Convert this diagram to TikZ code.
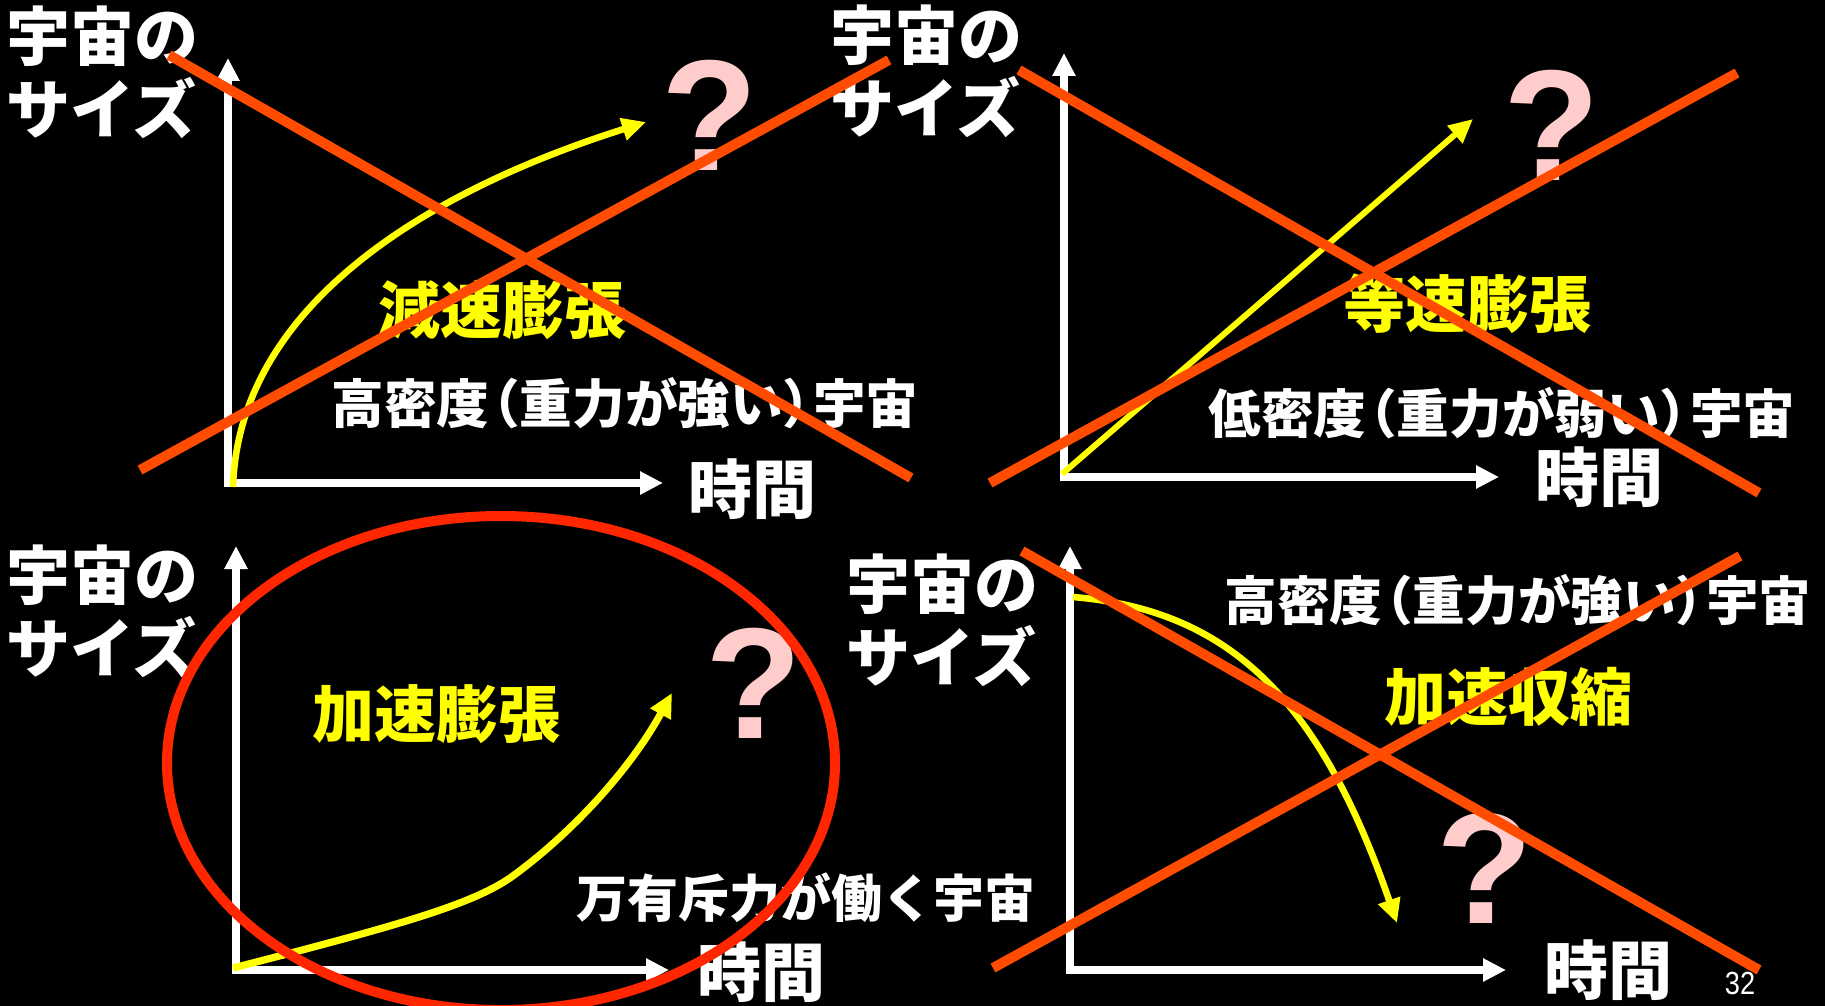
\documentclass[tikz,border=0pt]{standalone}
\usepackage{fontspec}
\setmainfont{Liberation Sans}
\newfontfamily\jp{Noto Sans CJK JP}
\usetikzlibrary{arrows.meta,shapes.geometric}
\definecolor{xorange}{RGB}{255,76,0}
\definecolor{ellred}{RGB}{255,38,0}
\definecolor{qpink}{RGB}{255,204,204}
\definecolor{ylw}{RGB}{255,255,0}
\newcommand{\lpar}{\kern-0.42em（}
\newcommand{\rpar}{）\kern-0.42em}
\begin{document}
\begin{tikzpicture}[x=0.5pt,y=-0.5pt,
  axis/.style={white, line width=4pt, line cap=rect, -{Triangle[length=11.5pt,width=11pt]}},
  growth/.style={ylw, line width=3.3pt, -{Triangle[length=12pt,width=11pt]}},
  cross/.style={xorange, line width=5pt},
  sizelbl/.style={white, inner sep=0pt, anchor=west, align=left, font=\jp\bfseries\fontsize{32}{36.5}\selectfont},
  timelbl/.style={white, inner sep=0pt, font=\jp\bfseries\fontsize{32}{36}\selectfont},
  kind/.style={ylw, inner sep=0pt, font=\jp\bfseries\fontsize{31}{36}\selectfont},
  desc/.style={white, inner sep=0pt, font=\jp\bfseries\fontsize{26.3}{30}\selectfont},
  qmark/.style={text=qpink, inner sep=0pt, font=\bfseries\fontsize{79}{80}\selectfont},
  pagenum/.style={white, inner sep=0pt, font=\fontsize{16}{18}\selectfont}
]
\useasboundingbox (0,0) rectangle (1825,1006);
\clip (0,0) rectangle (1825,1006);
\fill[black] (0,0) rectangle (1825,1006);

% ---------- panel 1 ----------
\coordinate (o1) at (228,483);
\coordinate (ya1) at (228,58);
\coordinate (xa1) at (663,483);
\draw[axis] (o1) -- (ya1);
\draw[axis] (o1) -- (xa1);
\node[sizelbl] (s1) at (6,72) {宇宙の\\サイズ};
\node[timelbl] (t1) at (752,489) {時間};
\node[kind] (k1) at (502,310) {減速膨張};
\node[desc] (d1) at (625,403) {高密度\lpar 重力が強い\rpar 宇宙};
\node[qmark] (q1) at (710,115) {?};
\coordinate (c1s) at (233,487);
\coordinate (c1e) at (646,122);
\draw[growth] (c1s) .. controls (238,320) and (400,200) .. (c1e);

% ---------- panel 2 ----------
\coordinate (o2) at (1064,477);
\coordinate (ya2) at (1064,53);
\coordinate (xa2) at (1499,477);
\draw[axis] (o2) -- (ya2);
\draw[axis] (o2) -- (xa2);
\node[sizelbl] (s2) at (830,71) {宇宙の\\サイズ};
\node[timelbl] (t2) at (1599,477) {時間};
\node[kind] (k2) at (1467,304) {等速膨張};
\node[desc] (d2) at (1502,413) {低密度\lpar 重力が弱い\rpar 宇宙};
\node[qmark] (q2) at (1552,125) {?};
\coordinate (c2s) at (1062,474);
\coordinate (c2e) at (1473,119);
\draw[growth, line width=3pt] (c2s) -- (c2e);

% ---------- panel 3 ----------
\coordinate (o3) at (236,970);
\coordinate (ya3) at (236,546);
\coordinate (xa3) at (669,970);
\draw[axis] (o3) -- (ya3);
\draw[axis] (o3) -- (xa3);
\node[sizelbl] (s3) at (6,611) {宇宙の\\サイズ};
\node[timelbl] (t3) at (761,972) {時間};
\node[kind] (k3) at (436,714) {加速膨張};
\node[desc, font=\jp\bfseries\fontsize{25.5}{30}\selectfont] (d3) at (806,898) {万有斥力が働く宇宙};
\node[qmark] (q3) at (754,683) {?};
\coordinate (c3s) at (233,968);
\coordinate (c3m) at (510,878);
\coordinate (c3e) at (672,693);
\draw[growth, line width=3.6pt] (c3s) .. controls (400,925) and (470,905) .. (c3m) .. controls (570,835) and (630,770) .. (c3e);

% ---------- panel 4 ----------
\coordinate (o4) at (1070,970);
\coordinate (ya4) at (1070,546);
\coordinate (xa4) at (1506,970);
\draw[axis] (o4) -- (ya4);
\draw[axis] (o4) -- (xa4);
\node[sizelbl] (s4) at (846,620) {宇宙の\\サイズ};
\node[timelbl] (t4) at (1608,970) {時間};
\node[kind] (k4) at (1508,697) {加速収縮};
\node[desc] (d4) at (1518,600) {高密度\lpar 重力が強い\rpar 宇宙};
\node[qmark] (q4) at (1485,868) {?};
\coordinate (c4s) at (1073,597);
\coordinate (c4e) at (1397,923);
\draw[growth] (c4s) .. controls (1230,610) and (1320,700) .. (c4e);
\node[pagenum, xscale=0.85] (pg) at (1740,983) {32};

% ---------- crosses and circle ----------
\coordinate (x1a) at (169,55);  \coordinate (x1b) at (911,478);
\coordinate (x1c) at (140,470); \coordinate (x1d) at (889,60);
\draw[cross] (x1a) -- (x1b);
\draw[cross] (x1c) -- (x1d);
\coordinate (x2a) at (1019,70);  \coordinate (x2b) at (1759,493);
\coordinate (x2c) at (990,483);  \coordinate (x2d) at (1737,73);
\draw[cross] (x2a) -- (x2b);
\draw[cross] (x2c) -- (x2d);
\coordinate (x4a) at (1022,551); \coordinate (x4b) at (1759,970);
\coordinate (x4c) at (993,968);  \coordinate (x4d) at (1740,556);
\draw[cross] (x4a) -- (x4b);
\draw[cross] (x4c) -- (x4d);
\node[draw=ellred, line width=5pt, ellipse, inner sep=0pt, minimum width=334pt, minimum height=247pt] (ring) at (501,763) {};
\end{tikzpicture}
\end{document}
